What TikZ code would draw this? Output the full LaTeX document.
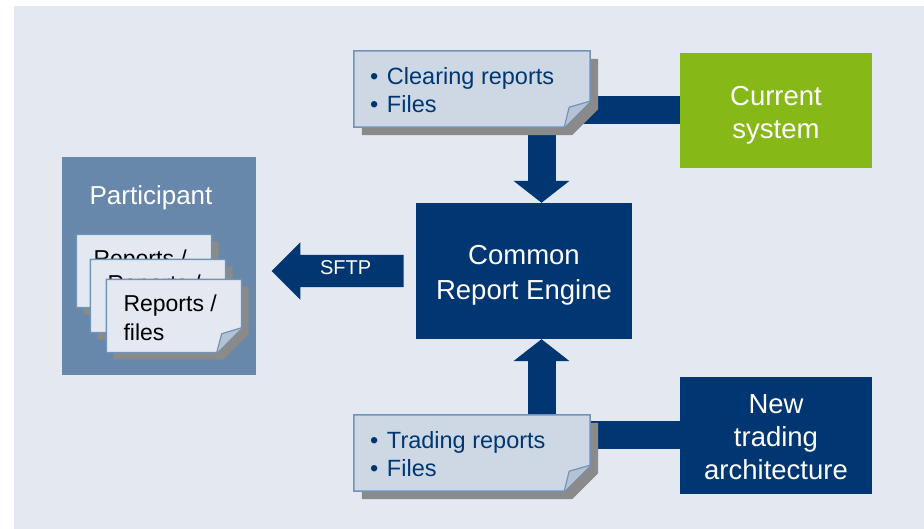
\documentclass[tikz,border=0pt]{standalone}
\usepackage{fontspec}
\setmainfont{Liberation Sans}
\usetikzlibrary{arrows.meta, positioning, calc, shapes.arrows}

\definecolor{bgblue}{HTML}{E4E9F1}
\definecolor{navy}{HTML}{003671}
\definecolor{leaf}{HTML}{86B817}
\definecolor{steel}{HTML}{6787AB}
\definecolor{notefill}{HTML}{CDD8E4}
\definecolor{noteline}{HTML}{7093BA}
\definecolor{foldfill}{HTML}{B4C2D3}
\definecolor{shadowgray}{HTML}{8A8A8A}

% sheet with shadow and folded corner: node, fold, shadow offset, fill
\newcommand{\dogear}[4]{%
  \fill[shadowgray] let \p1=(#1.south west), \p2=(#1.north east) in
    (\x1+#3,\y1-#3) -- (\x1+#3,\y2-#3) -- (\x2+#3,\y2-#3) -- (\x2+#3,\y1+#2-#3) -- (\x2-#2+#3,\y1-#3) -- cycle;
  \filldraw[draw=noteline, fill=#4, line width=1.5pt] let \p1=(#1.south west), \p2=(#1.north east) in
    (\x1,\y1) -- (\x1,\y2) -- (\x2,\y2) -- (\x2,\y1+#2) -- (\x2-#2,\y1) -- cycle;
  \filldraw[draw=noteline, fill=foldfill, line width=1.2pt, line join=round] let \p1=(#1.south west), \p2=(#1.north east) in
    (\x2-#2,\y1) -- (\x2-#2+5,\y1+#2-6) -- (\x2,\y1+#2);
}
\newcommand{\bul}{\makebox[17pt][l]{•}}

\begin{document}
\begin{tikzpicture}[x=1pt, y=1pt,
        block/.style={rectangle, inner sep=0pt},
        blocktext/.style={inner sep=0pt, align=center, text=white, font=\fontsize{27.5}{33}\selectfont},
        paper/.style={rectangle, inner sep=0pt, minimum width=236pt, minimum height=76pt},
        sheet/.style={rectangle, inner sep=0pt, minimum width=135pt, minimum height=73pt},
        notetext/.style={anchor=west, inner sep=0pt, align=left, text=navy, font=\fontsize{23.5}{28}\selectfont},
        sheettext/.style={anchor=north west, inner sep=0pt, align=left, font=\fontsize{23}{29}\selectfont},
        feed/.style={navy, line width=28pt, -{Triangle[width=55pt, length=22pt]}},
        sftp/.style={single arrow, shape border rotate=180, fill=navy, text=white,
            font=\fontsize{20}{24}\selectfont, minimum height=132pt, single arrow head extend=12.5pt,
            single arrow tip angle=90, inner ysep=7pt, text height=13pt, text depth=5pt}
    ]

    % --- BACKGROUND ---
    \fill[white] (0,0) rectangle (924,529);
    \fill[bgblue] (14,0) rectangle (924,523);
    \useasboundingbox (0,0) rectangle (924,529);

    % --- PARTICIPANT ---
    \node[rectangle, fill=steel, minimum width=194pt, minimum height=218pt] (part) at (159,263) {};
    \node[text=white, font=\fontsize{26}{30}\selectfont] (parttitle) at ([shift={(-8,-41)}]part.north) {Participant};

    \node[sheet] (sh1) at (144,258) {};
    \dogear{sh1}{25}{7}{bgblue}
    \node[sheettext] (sh1text) at ([shift={(17,-15)}]sh1.north west) {Reports /\\files};
    \node[sheet] (sh2) at (158,233) {};
    \dogear{sh2}{25}{7}{bgblue}
    \node[sheettext] (sh2text) at ([shift={(17,-15)}]sh2.north west) {Reports /\\files};
    \node[sheet] (sh3) at (174,213) {};
    \dogear{sh3}{25}{7}{bgblue}
    \node[sheettext] (sh3text) at ([shift={(17,-15)}]sh3.north west) {Reports /\\files};

    % --- ENGINE ---
    \node[block, fill=navy, minimum width=216pt, minimum height=136pt] (cre) at (524,258) {};
    \node[blocktext, font=\fontsize{27.5}{35}\selectfont] (cretext) at ([yshift=-4pt]cre.center) {Common\\Report Engine};
    \node[sftp, left=12pt of cre] (sftparrow) {SFTP};

    % --- SOURCES ---
    \node[block, fill=leaf, minimum width=192pt, minimum height=115pt] (cur) at (776,418.5) {};
    \node[blocktext] (curtext) at ([yshift=-5pt]cur.center) {Current\\system};
    \node[block, fill=navy, minimum width=192pt, minimum height=117pt] (new) at (776,93.5) {};
    \node[blocktext] (newtext) at ([yshift=-2pt]new.center) {New\\trading\\architecture};

    \draw[feed] (cur.west) -| ([xshift=17.5pt]cre.north);
    \draw[feed] (new.west) -| ([xshift=17.5pt]cre.south);

    % --- NOTES ---
    \node[paper] (clr) at (472,440) {};
    \dogear{clr}{26}{8}{notefill}
    \node[notetext] (clrtext) at ([shift={(16,-1)}]clr.west) {\bul Clearing reports\\\bul Files};

    \node[paper] (trd) at (472,76) {};
    \dogear{trd}{26}{8}{notefill}
    \node[notetext] (trdtext) at ([shift={(16,-1)}]trd.west) {\bul Trading reports\\\bul Files};

\end{tikzpicture}
\end{document}
